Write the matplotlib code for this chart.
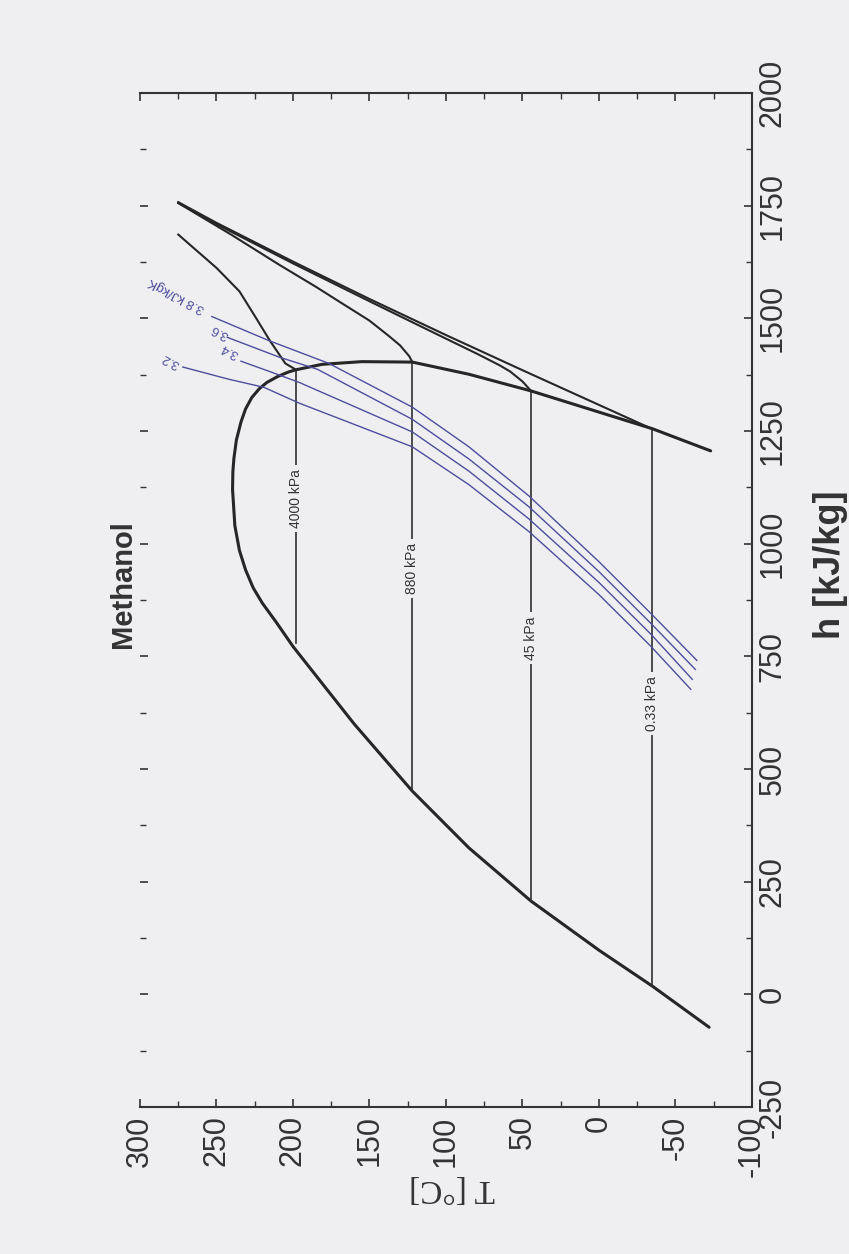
import matplotlib.pyplot as plt
from matplotlib.ticker import MultipleLocator

plt.rcParams['font.family'] = ['Liberation Sans', 'DejaVu Sans']
plt.rcParams['axes.unicode_minus'] = False

# saturation dome of methanol, T [C] vs h [kJ/kg]
T_liq = [-72, -35, 0, 44.4, 85, 122, 160, 200, 211, 220, 226, 231, 235, 238, 239.5]
h_liq = [-73, 18, 98, 207, 325, 451, 600, 772, 826, 868, 902, 942, 985, 1040, 1120]
T_vap = [239.5, 239.3, 238.6, 237, 234, 231, 227, 222, 217, 210, 203, 198, 181, 155,
         122, 85, 44.4, -35, -73]
h_vap = [1120, 1160, 1190, 1230, 1270, 1299, 1324, 1344, 1358, 1371, 1381, 1386, 1398,
         1404, 1403, 1376, 1339, 1255, 1206]

# isobars: saturation temperature, liquid / vapour enthalpy, label height
p_labels = ['4000 kPa', '880 kPa', '45 kPa', '0.33 kPa']
T_sat = [198, 122, 44.4, -34.5]
h_f = [780, 451, 207, 20]
h_g = [1386, 1403, 1339, 1255]
h_lab = [1100, 945, 790, 645]

# superheated part of each isobar
T_sh_4000 = [198, 201, 205, 215, 224, 235, 250, 275]
h_sh_4000 = [1386, 1392, 1400, 1450, 1500, 1560, 1612, 1686]
T_sh_880 = [122, 124, 130, 137, 150, 165, 185, 209, 240, 275]
h_sh_880 = [1403, 1416, 1440, 1460, 1495, 1527, 1570, 1619, 1685, 1756]
T_sh_45 = [44.4, 50, 58, 65, 80, 100, 150, 200, 250, 275]
h_sh_45 = [1339, 1360, 1382, 1396, 1422, 1455, 1538, 1622, 1709, 1756]
T_sh_033 = [-34.5, 0, 50, 100, 150, 200, 250, 275]
h_sh_033 = [1255, 1308, 1385, 1463, 1543, 1626, 1712, 1758]

# isentropes [kJ/kgK]
s_labels = ['3.8 kJ/kgK', '3.6', '3.4', '3.2']
T_s38 = [253, 216, 176.5, 122, 85, 45.8, 0, -34, -64]
h_s38 = [1504, 1451, 1400, 1303, 1215, 1106, 960, 845, 741]
T_s36 = [243, 209, 184, 122, 85, 45.8, 0, -34, -63]
h_s36 = [1458, 1414, 1387, 1276, 1188, 1082, 938, 823, 721]
T_s34 = [234, 216, 196, 122, 85, 45.8, 0, -34, -61]
h_s34 = [1405, 1383, 1358, 1248, 1161, 1055, 914, 799, 699]
T_s32 = [272, 242, 219, 196, 122, 85, 45.8, 0, -34, -60]
h_s32 = [1392, 1365, 1347, 1312, 1215, 1131, 1027, 887, 772, 677]
s_lab_T = [276, 248, 241, 280]
s_lab_h = [1553, 1471, 1429, 1406]

bg = '#efeff1'
ink = '#262626'
blue = '#4d4d9e'

fig = plt.figure(figsize=(8.49, 12.54), dpi=100, facecolor=bg)
ax = fig.add_axes([0.1649, 0.1172, 0.7208, 0.8086], facecolor=bg)

# dome
ax.plot(T_liq, h_liq, color=ink, lw=2.2, solid_capstyle='round')
ax.plot(T_vap, h_vap, color=ink, lw=2.2, solid_capstyle='round')

# isobars inside the dome with their labels
for T, hf, hg, hl, lab in zip(T_sat, h_f, h_g, h_lab, p_labels):
    ax.plot([T, T], [hf, hg], color='#303030', lw=1.2)
    ax.text(T, hl, lab, rotation=90, ha='center', va='center', fontsize=10,
            color='#333333', bbox=dict(facecolor=bg, edgecolor='none', pad=3))

for T, h in [(T_sh_4000, h_sh_4000), (T_sh_880, h_sh_880),
             (T_sh_45, h_sh_45), (T_sh_033, h_sh_033)]:
    ax.plot(T, h, color=ink, lw=1.5)

# isentropes
for T, h in [(T_s38, h_s38), (T_s36, h_s36), (T_s34, h_s34), (T_s32, h_s32)]:
    ax.plot(T, h, color=blue, lw=1.0)
for T, h, lab in zip(s_lab_T, s_lab_h, s_labels):
    ax.text(T, h, lab, rotation=152, ha='center', va='center', fontsize=9.5,
            color=blue, rotation_mode='anchor')

ax.set_xlim(300, -100)
ax.set_ylim(-250, 2000)
ax.xaxis.set_major_locator(MultipleLocator(50))
ax.xaxis.set_minor_locator(MultipleLocator(25))
ax.yaxis.set_major_locator(MultipleLocator(250))
ax.yaxis.set_minor_locator(MultipleLocator(125))

ax.spines['left'].set_visible(False)
for side in ['top', 'right', 'bottom']:
    ax.spines[side].set_color('#333333')
    ax.spines[side].set_linewidth(1.5)

ax.tick_params(which='both', direction='in', top=True, bottom=True, left=True,
               right=True, labelleft=False, labelright=True, colors='#333333')
ax.tick_params(which='major', length=6, width=1.2)
ax.tick_params(which='minor', length=4, width=1.0)
ax.tick_params(axis='x', labelrotation=90, labelsize=22, pad=6)
ax.tick_params(axis='y', labelrotation=90, labelsize=22, pad=4)
for lab in ax.get_yticklabels():
    lab.set_va('center')

ax.set_xlabel('T [°C]', rotation=180, fontsize=24, family='Liberation Serif',
              color='#333333', labelpad=6)
ax.xaxis.set_label_coords(0.51, -0.065)
ax.yaxis.set_label_position('right')
ax.set_ylabel('h [kJ/kg]', fontsize=26, fontweight='bold', color='#333333')
ax.yaxis.set_label_coords(1.100, 0.535)

ax.text(-0.028, 0.516, 'Methanol', rotation=90, transform=ax.transAxes,
        ha='center', va='center', fontsize=21, fontweight='bold', color='#333333')

fig.savefig('out.png', dpi=100, facecolor=bg)
